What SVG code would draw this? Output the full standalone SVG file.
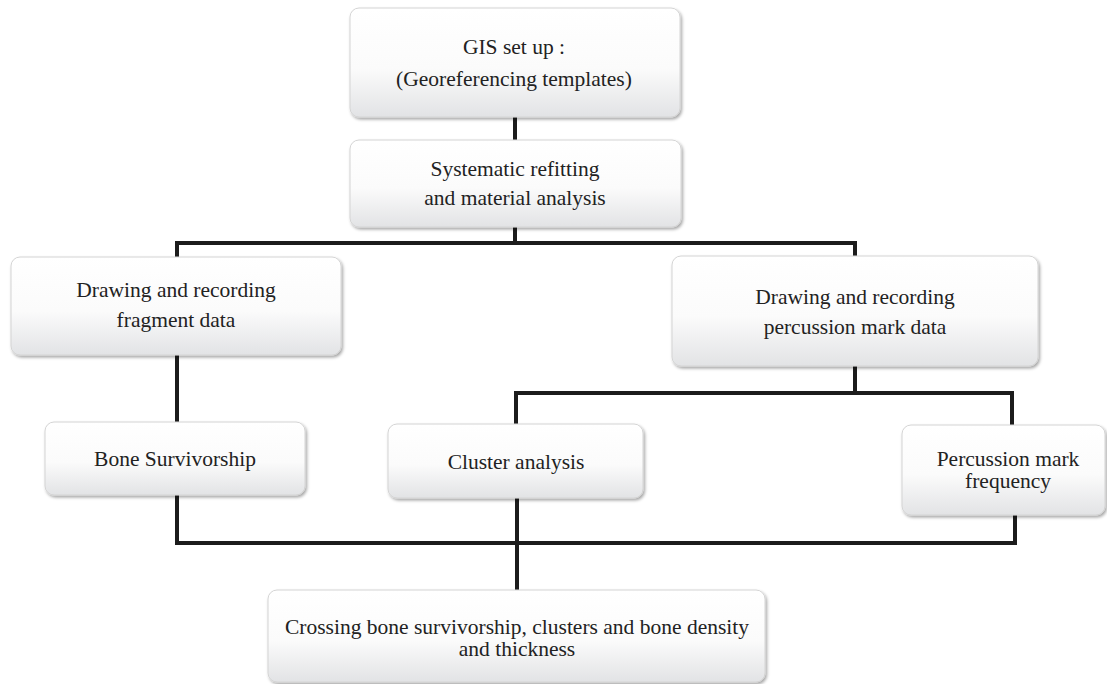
<svg xmlns="http://www.w3.org/2000/svg" width="1107" height="684" viewBox="0 0 1107 684">
<defs>
<linearGradient id="g" x1="0" y1="0" x2="0" y2="1">
<stop offset="0" stop-color="#ffffff"/>
<stop offset="0.55" stop-color="#fbfbfb"/>
<stop offset="1" stop-color="#e2e3e5"/>
</linearGradient>
<filter id="sh" x="-5%" y="-5%" width="115%" height="125%">
<feDropShadow dx="1.5" dy="2" stdDeviation="1.5" flood-color="#000" flood-opacity="0.35"/>
</filter>
<style>
.box{fill:url(#g);stroke:#d4d4d4;stroke-width:1;filter:url(#sh)}
.c{fill:none;stroke:#1c1c1c;stroke-width:4;stroke-linecap:butt;stroke-linejoin:miter}
</style>
</defs>
<rect width="1107" height="684" fill="#fff"/>
<g id="connectors">
<path class="c" d="M515 117 V140"/>
<path class="c" d="M515 227 V243"/>
<path class="c" d="M177 257 V243 H855 V257"/>
<path class="c" d="M177 355 V422"/>
<path class="c" d="M855 366 V393"/>
<path class="c" d="M516 424 V393 H1012 V425"/>
<path class="c" d="M177 495 V543 H1015 V515"/>
<path class="c" d="M517 498 V590"/>
</g>
<g id="n1">
<rect class="box" x="350" y="8" width="330" height="109" rx="9"/>
<text font-family="Liberation Serif" font-size="21.5" fill="#222" text-anchor="middle" x="514" y="54">GIS set up :</text>
<text font-family="Liberation Serif" font-size="21.5" fill="#222" text-anchor="middle" x="514" y="86">(Georeferencing templates)</text>
</g>
<g id="n2">
<rect class="box" x="350" y="140" width="331" height="87" rx="9"/>
<text font-family="Liberation Serif" font-size="21.5" fill="#222" text-anchor="middle" x="515" y="176">Systematic refitting</text>
<text font-family="Liberation Serif" font-size="21.5" fill="#222" text-anchor="middle" x="515" y="205">and material analysis</text>
</g>
<g id="n3">
<rect class="box" x="11" y="257" width="330" height="98" rx="9"/>
<text font-family="Liberation Serif" font-size="21.5" fill="#222" text-anchor="middle" x="176" y="297">Drawing and recording</text>
<text font-family="Liberation Serif" font-size="21.5" fill="#222" text-anchor="middle" x="176" y="327">fragment data</text>
</g>
<g id="n4">
<rect class="box" x="672" y="256" width="366" height="110" rx="9"/>
<text font-family="Liberation Serif" font-size="21.5" fill="#222" text-anchor="middle" x="855" y="304">Drawing and recording</text>
<text font-family="Liberation Serif" font-size="21.5" fill="#222" text-anchor="middle" x="855" y="334">percussion mark data</text>
</g>
<g id="n5">
<rect class="box" x="45" y="422" width="260" height="73" rx="9"/>
<text font-family="Liberation Serif" font-size="21.5" fill="#222" text-anchor="middle" x="175" y="466">Bone Survivorship</text>
</g>
<g id="n6">
<rect class="box" x="388" y="424" width="255" height="74" rx="9"/>
<text font-family="Liberation Serif" font-size="21.5" fill="#222" text-anchor="middle" x="516" y="469">Cluster analysis</text>
</g>
<g id="n7">
<rect class="box" x="902" y="425" width="203" height="90" rx="9"/>
<text font-family="Liberation Serif" font-size="21.5" fill="#222" text-anchor="middle" x="1008" y="466">Percussion mark</text>
<text font-family="Liberation Serif" font-size="21.5" fill="#222" text-anchor="middle" x="1008" y="488">frequency</text>
</g>
<g id="n8">
<rect class="box" x="268" y="590" width="497" height="92" rx="9"/>
<text font-family="Liberation Serif" font-size="21.5" fill="#222" text-anchor="middle" x="517" y="634">Crossing bone survivorship, clusters and bone density</text>
<text font-family="Liberation Serif" font-size="21.5" fill="#222" text-anchor="middle" x="517" y="656">and thickness</text>
</g>
</svg>
